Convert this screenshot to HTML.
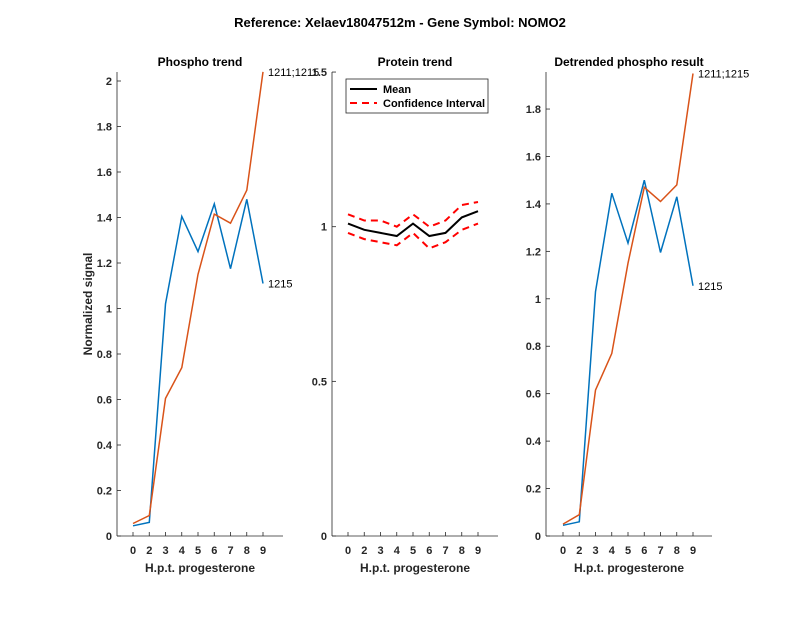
<!DOCTYPE html>
<html><head><meta charset="utf-8"><style>
body{margin:0;background:#fff}
svg{display:block;font-family:"Liberation Sans",Arial,sans-serif}
</style></head><body>
<svg id="s" width="800" height="618" xmlns="http://www.w3.org/2000/svg">
<rect width="800" height="618" fill="#fff"/>
<text x="400" y="27" font-size="13" font-weight="bold" text-anchor="middle" fill="#000">Reference:  Xelaev18047512m - Gene Symbol:  NOMO2</text>
<g id="g"></g>
</svg>
<script>
(function(){
var NS="http://www.w3.org/2000/svg",g=document.getElementById('g');
function el(t,a,txt){var e=document.createElementNS(NS,t);for(var k in a)e.setAttribute(k,a[k]);if(txt!=null)e.textContent=txt;g.appendChild(e);return e;}
var Y0=536,YT=72;
function panel(ax,ticks0,per,yticks,title,series,labels){
  var xl=ax, xr=ax+166;
  var tx=function(i){return ticks0+16.25*i;};
  var ty=function(v){return Y0-v*per;};
  el('line',{x1:xl,y1:YT,x2:xl,y2:Y0,stroke:'#262626','stroke-width':0.8});
  el('line',{x1:xl,y1:Y0,x2:xr,y2:Y0,stroke:'#262626','stroke-width':0.8});
  var xs=['0','2','3','4','5','6','7','8','9'];
  for(var i=0;i<9;i++){el('line',{x1:tx(i),y1:Y0,x2:tx(i),y2:Y0-4,stroke:'#262626','stroke-width':0.8});
   el('text',{x:tx(i),y:Y0+18,'font-size':11,'text-anchor':'middle',fill:'#262626','font-weight':'bold'},xs[i]);}
  yticks.forEach(function(v){var y=ty(v);el('line',{x1:xl,y1:y,x2:xl+4,y2:y,stroke:'#262626','stroke-width':0.8});
   el('text',{x:xl-5,y:y+4,'font-size':11,'text-anchor':'end',fill:'#262626','font-weight':'bold'},String(v));});
  el('text',{x:xl+83,y:66,'font-size':12,'font-weight':'bold','text-anchor':'middle',fill:'#000'},title);
  el('text',{x:xl+83,y:572,'font-size':12,'font-weight':'bold','text-anchor':'middle',fill:'#262626'},'H.p.t. progesterone');
  series.forEach(function(s){var p=s.d.map(function(v,i){return tx(i).toFixed(1)+','+ty(v).toFixed(1);}).join(' ');
   var a={points:p,fill:'none',stroke:s.c,'stroke-width':s.w||1.5};if(s.dash)a['stroke-dasharray']=s.dash;el('polyline',a);});
  (labels||[]).forEach(function(l){el('text',{x:tx(8)+5,y:ty(l.v)+4,'font-size':11,fill:'#000'},l.t);});
}
var B='#0072BD',O='#D95319';
var lb=[0.045,0.06,1.02,1.405,1.25,1.46,1.175,1.48,1.11],lo=[0.055,0.09,0.605,0.74,1.15,1.415,1.375,1.52,2.04];
panel(117,133,227.5,[0,0.2,0.4,0.6,0.8,1,1.2,1.4,1.6,1.8,2],'Phospho trend',
 [{d:lb,c:B},{d:lo,c:O}],[{v:2.04,t:'1211;1215'},{v:1.11,t:'1215'}]);
panel(332,348,309.3,[0,0.5,1,1.5],'Protein trend',
 [{d:[1.04,1.02,1.02,1.0,1.04,1.0,1.02,1.07,1.08],c:'#f00',w:2,dash:'7,5'},
  {d:[0.98,0.96,0.95,0.94,0.98,0.93,0.95,0.99,1.01],c:'#f00',w:2,dash:'7,5'},
  {d:[1.01,0.99,0.98,0.97,1.01,0.97,0.98,1.03,1.05],c:'#000',w:2}]);
el('rect',{x:346,y:79,width:142,height:34,fill:'#fff',stroke:'#262626','stroke-width':0.8});
el('line',{x1:350,y1:89,x2:377,y2:89,stroke:'#000','stroke-width':2});
el('text',{x:383,y:93,'font-size':11,'font-weight':'bold',fill:'#000'},'Mean');
el('line',{x1:350,y1:103,x2:377,y2:103,stroke:'#f00','stroke-width':2,'stroke-dasharray':'7,5'});
el('text',{x:383,y:107,'font-size':11,'font-weight':'bold',fill:'#000'},'Confidence Interval');
var rb=[0.045,0.06,1.03,1.445,1.235,1.5,1.195,1.43,1.055],ro=[0.05,0.09,0.615,0.77,1.15,1.47,1.41,1.48,1.95];
panel(546,563,237.2,[0,0.2,0.4,0.6,0.8,1,1.2,1.4,1.6,1.8],'Detrended phospho result',
 [{d:rb,c:B},{d:ro,c:O}],[{v:1.95,t:'1211;1215'},{v:1.055,t:'1215'}]);
el('text',{x:0,y:0,'font-size':12,'font-weight':'bold','text-anchor':'middle',fill:'#262626',transform:'translate(92,304) rotate(-90)'},'Normalized signal');
})();
</script>
</body></html>
